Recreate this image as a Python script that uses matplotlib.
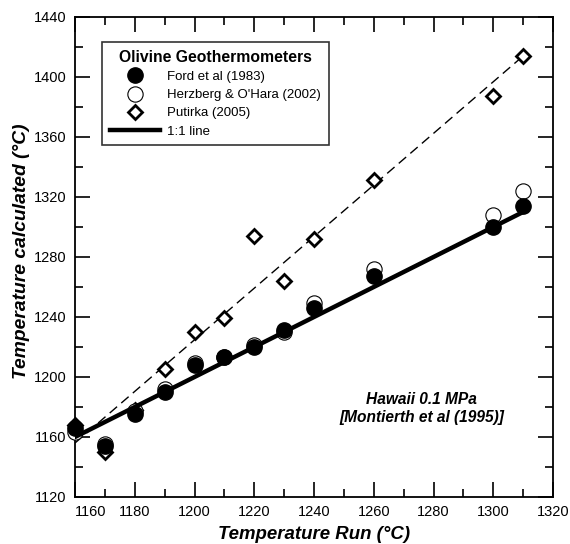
import numpy as np
import matplotlib.pyplot as plt

plt.rcParams['font.family'] = ['Liberation Sans', 'DejaVu Sans']

# run temperatures (deg C)
t_run = [1160, 1170, 1180, 1190, 1200, 1210, 1220, 1230, 1240, 1260, 1300, 1310]
# calculated temperatures
ford = [1166, 1154, 1175, 1190, 1208, 1213, 1220, 1231, 1246, 1267, 1300, 1314]
herzberg = [1163, 1155, 1177, 1192, 1209, 1213, 1221, 1230, 1249, 1272, 1308, 1324]
putirka = [1168, 1150, 1178, 1205, 1230, 1239, 1294, 1264, 1292, 1331, 1387, 1414]

one_to_one = [1160, 1310]
fit_x = [1160, 1310]
fit_y = [1156, 1414]

fig = plt.figure(figsize=(5.7, 5.44), dpi=100)
ax = fig.add_axes([0.1316, 0.0864, 0.8386, 0.8824])

ax.plot(fit_x, fit_y, color='black', lw=1.0, ls=(0, (7, 4)), zorder=1)
ax.plot(t_run, putirka, ls='none', marker='D', ms=7, mfc='white', mec='black',
        mew=2.0, zorder=2, clip_on=False, label='Putirka (2005)')
ax.plot(t_run, herzberg, ls='none', marker='o', ms=11, mfc='white', mec='black',
        mew=0.8, zorder=3, clip_on=False, label="Herzberg & O'Hara (2002)")
ax.plot(t_run, ford, ls='none', marker='o', ms=11, mfc='black', mec='black',
        zorder=4, clip_on=False, label='Ford et al (1983)')
ax.plot(one_to_one, one_to_one, color='black', lw=3.2, zorder=5, label='1:1 line')

ax.set_xlim(1160, 1320)
ax.set_ylim(1120, 1440)
ax.set_xticks(np.arange(1160, 1321, 20))
ax.set_xticks(np.arange(1160, 1321, 10), minor=True)
ax.set_yticks(np.arange(1120, 1441, 40))
ax.set_yticks(np.arange(1120, 1441, 20), minor=True)
ax.tick_params(which='both', direction='in', top=True, right=True, labelsize=10.5,
               width=1.2, pad=6)
ax.tick_params(which='major', length=11)
ax.tick_params(which='minor', length=6)
for lab in ax.get_xticklabels():
    if lab.get_text() == '1160':
        lab.set_horizontalalignment('left')
for s in ax.spines.values():
    s.set_linewidth(1.3)

ax.set_xlabel('Temperature Run (°C)', fontsize=13.4, fontweight='bold', style='italic', labelpad=4.5)
ax.set_ylabel('Temperature calculated (°C)', fontsize=13.9, fontweight='bold', style='italic')
ax.yaxis.set_label_coords(-0.094, 0.5125)

ax.text(1276, 1179, 'Hawaii 0.1 MPa\n[Montierth et al (1995)]', ha='center', va='center',
        fontsize=11.2, fontweight='bold', style='italic', linespacing=1.3)

handles, labels = ax.get_legend_handles_labels()
order = [2, 1, 0, 3]
leg = ax.legend([handles[i] for i in order], [labels[i] for i in order],
                title='Olivine Geothermometers', loc='upper left',
                bbox_to_anchor=(0.056, 0.948), borderaxespad=0, fontsize=9.5,
                handlelength=3.8, frameon=True, fancybox=False, edgecolor='black',
                borderpad=0.6, labelspacing=0.45, handletextpad=0.55)
leg.get_title().set_fontweight('bold')
leg.get_title().set_fontsize(11.3)
leg.get_frame().set_linewidth(1.2)

fig.savefig('out.png', dpi=100)
